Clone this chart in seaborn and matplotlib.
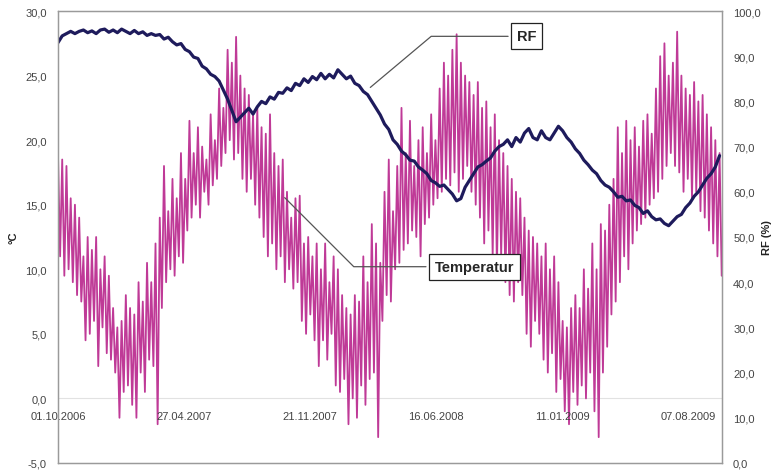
import matplotlib
matplotlib.use("Agg")
import matplotlib.pyplot as plt
from matplotlib.ticker import FuncFormatter, MultipleLocator
import seaborn as sns
import numpy as np
import pandas as pd

# Datumsachse (Tage ab 01.10.2006), Beschriftung alle 208 Tage
tick_days = [0, 208, 416, 624, 832, 1040]
tick_labels = ["01.10.2006", "27.04.2007", "21.11.2007", "16.06.2008", "11.01.2009", "07.08.2009"]

rf_week = [
    93.0, 94.5, 95.0, 95.5, 95.0, 95.5, 95.8, 95.2, 95.6, 95.0,
    95.8, 96.0, 95.3, 95.8, 95.2, 96.0, 95.5, 95.0, 95.7, 95.0,
    95.4, 94.6, 95.0, 94.6, 94.8, 93.8, 94.2, 93.2, 92.5, 92.8,
    91.5, 91.0, 89.8, 89.5, 87.8, 87.2, 86.0, 85.5, 84.5, 82.5,
    80.5, 78.0, 75.5, 76.5, 77.5, 78.5, 77.2, 78.8, 80.0, 79.5,
    81.0, 80.5, 82.0, 81.8, 83.0, 82.4, 84.0, 83.5, 85.0, 84.2,
    85.5, 84.8, 86.2, 85.0, 86.0, 85.2, 87.0, 86.0, 85.0, 85.6,
    84.0, 83.5, 82.2, 81.5, 80.0, 78.5, 77.0, 75.0, 73.8, 71.5,
    70.5, 69.0, 68.2, 67.0, 66.8, 65.5, 64.8, 64.0, 62.5, 62.0,
    61.2, 61.5, 60.5, 59.5, 58.0, 58.5, 61.0, 62.5, 64.0, 65.5,
    66.0, 66.8, 67.5, 69.0, 70.0, 70.5, 71.5, 70.0, 72.0, 71.0,
    73.0, 74.0, 72.0, 71.5, 73.5, 72.0, 71.5, 73.0, 74.5, 73.5,
    72.0, 71.0, 69.5, 68.5, 67.0, 66.0, 64.8, 64.0, 62.5, 61.5,
    61.0, 60.0, 58.8, 59.0, 58.0, 58.2, 57.0, 56.5, 55.2, 55.8,
    54.5, 53.8, 54.0, 53.0, 52.5, 53.5, 54.5, 55.0, 56.5, 57.5,
    59.0, 60.0, 61.5, 63.0, 64.0, 65.5, 68.0,
]

# Temperatur (°C): Spitzen und Tiefs je Woche
temp_hi = [
    19.0, 18.5, 18.0, 15.5, 15.0, 14.0, 11.0, 12.5, 11.5, 12.5,
    10.0, 11.0, 9.5, 7.0, 5.5, 6.0, 8.0, 7.0, 6.5, 9.0,
    7.5, 10.5, 9.0, 12.0, 14.0, 18.0, 14.5, 17.0, 15.5, 19.0,
    17.0, 21.5, 19.0, 21.0, 19.5, 18.5, 22.0, 20.0, 24.0, 22.5,
    27.0, 26.0, 28.0, 25.0, 24.0, 23.5, 22.0, 22.5, 21.0, 20.5,
    22.0, 19.0, 18.0, 18.5, 16.0, 14.0, 15.5, 15.7, 12.0, 12.5,
    11.0, 12.0, 10.0, 12.0, 9.0, 11.0, 10.0, 8.0, 7.0, 6.5,
    8.0, 7.5, 11.0, 9.0, 13.5, 12.0, 10.5, 16.0, 18.5, 14.5,
    18.0, 22.5, 19.0, 21.5, 18.0, 20.0, 21.0, 19.0, 22.0, 20.0,
    24.0, 26.0, 25.0, 27.0, 28.2, 26.0, 25.0, 24.5, 23.5, 24.5,
    22.5, 23.0, 21.0, 22.0, 20.0, 19.0, 18.0, 17.0, 16.0, 15.5,
    14.0, 13.0, 12.5, 12.0, 11.0, 12.0, 10.0, 11.0, 9.0, 6.0,
    5.5, 7.0, 8.0, 7.0, 10.0, 8.5, 12.0, 10.0, 13.5, 13.0,
    15.0, 17.0, 21.0, 19.0, 21.5, 20.0, 21.0, 19.5, 21.5, 22.0,
    20.5, 24.0, 26.5, 27.5, 25.0, 26.0, 28.4, 25.0, 24.0, 23.5,
    24.5, 23.0, 23.5, 22.0, 21.0, 20.0, 19.0,
]
temp_lo = [
    11.0, 9.5, 10.0, 9.0, 8.0, 7.5, 4.5, 5.0, 6.0, 2.5,
    5.5, 3.5, 3.0, 2.0, -1.5, 0.5, 1.0, -0.5, -1.5, 2.0,
    0.5, 3.0, 2.5, -2.0, 7.0, 9.0, 10.0, 9.5, 11.0, 10.5,
    13.0, 14.0, 15.0, 14.0, 16.0, 15.0, 16.5, 17.0, 18.0, 19.0,
    20.0, 18.5, 19.0, 17.0, 16.0, 17.0, 15.0, 14.0, 12.5, 11.0,
    12.0, 10.0, 11.0, 9.0, 10.0, 8.5, 9.0, 6.0, 5.0, 6.5,
    4.5, 2.5, 4.5, 3.0, 5.0, 1.0, 0.5, 1.5, -2.0, 0.0,
    -1.5, 1.0, -0.5, 1.5, 2.0, -3.0, 6.0, 8.0, 7.5, 10.0,
    10.5, 11.5, 12.0, 13.0, 12.5, 11.0, 13.5, 14.0, 15.0, 15.5,
    16.0, 17.0, 16.5, 17.5, 16.0, 17.0, 18.0, 16.0, 15.0, 14.0,
    12.0, 13.0, 11.0, 10.0, 11.0, 9.0, 8.0, 7.5, 9.0, 8.0,
    5.0, 4.0, 6.0, 5.0, 3.0, 2.0, 3.5, 0.5, 1.5, -1.0,
    -2.0, 0.5, -0.5, 1.0, 0.0, 2.0, -1.0, -3.0, 2.0, 4.0,
    6.5, 7.5, 9.0, 11.0, 10.0, 12.0, 13.0, 13.5, 14.0, 15.0,
    15.5, 16.0, 17.0, 18.0, 19.0, 18.0, 17.5, 16.0, 17.0, 15.5,
    16.0, 14.5, 14.0, 13.0, 12.0, 11.0, 9.5,
]

rf_df = pd.DataFrame({"tag": np.arange(len(rf_week)) * 7.0, "rf": rf_week})
temp_values = np.column_stack([temp_hi, temp_lo]).ravel()
temp_df = pd.DataFrame({"tag": np.arange(len(temp_values)) * 3.5, "temp": temp_values})

sns.set_style("white")
plt.rcParams["font.family"] = ["Liberation Sans", "DejaVu Sans"]

fig = plt.figure(figsize=(7.75, 4.77), dpi=100)
ax = fig.add_axes([0.0748, 0.0273, 0.8568, 0.9475])
ax2 = ax.twinx()

pink = "#BF3A97"
navy = "#1E1B5C"
grau = "#444444"

sns.lineplot(data=temp_df, x="tag", y="temp", ax=ax, color=pink, lw=1.3,
             estimator=None, sort=False)
sns.lineplot(data=rf_df, x="tag", y="rf", ax=ax2, color=navy, lw=2.3,
             estimator=None, sort=False)

ax.axhline(0, color="#e2e2e2", lw=0.8, zorder=0)

ax.set_xlim(0, 1096)
ax.set_ylim(-5, 30)
ax2.set_ylim(0, 100)
ax.yaxis.set_major_locator(MultipleLocator(5))
ax2.yaxis.set_major_locator(MultipleLocator(10))
komma = FuncFormatter(lambda v, p: f"{v:.1f}".replace(".", ","))
ax.yaxis.set_major_formatter(komma)
ax2.yaxis.set_major_formatter(komma)

ax.set_xticks([])
ax.tick_params(axis="y", length=0, pad=8, labelsize=8, labelcolor=grau)
ax2.tick_params(axis="y", length=0, pad=8, labelsize=8, labelcolor=grau)
ax.set_xlabel("")
ax.set_ylabel("°C", fontsize=8, fontweight="bold", color="#222222", labelpad=5)
ax2.set_ylabel("RF (%)", fontsize=8, fontweight="bold", color="#222222", labelpad=1)

for sp in ax.spines.values():
    sp.set_color("#9a9a9a")
    sp.set_linewidth(0.9)
for sp in ax2.spines.values():
    sp.set_color("#9a9a9a")
    sp.set_linewidth(0.9)

# Datumsbeschriftung auf Höhe der Nulllinie
for d, lab in zip(tick_days, tick_labels):
    ax.annotate(lab, xy=(d, 0), xytext=(0, -9), textcoords="offset points",
                ha="center", va="top", fontsize=8, color=grau, annotation_clip=False)

box = dict(boxstyle="square,pad=0.4", fc="white", ec="#222222", lw=0.9)
ax2.annotate("RF", xy=(512, 82.7), xytext=(774, 94.4),
             fontsize=10.5, fontweight="bold", ha="center", va="center", bbox=box,
             arrowprops=dict(arrowstyle="-", color="#555555", lw=0.9,
                             connectionstyle="angle,angleA=0,angleB=40,rad=0"),
             zorder=10)
ax2.annotate("Temperatur", xy=(371, 15.7), xycoords=ax.transData,
             xytext=(688, 10.2), textcoords=ax.transData,
             fontsize=10.5, fontweight="bold", ha="center", va="center", bbox=box,
             arrowprops=dict(arrowstyle="-", color="#555555", lw=0.9,
                             connectionstyle="angle,angleA=0,angleB=-45,rad=0"),
             zorder=10)

fig.savefig("out.png", dpi=100)
